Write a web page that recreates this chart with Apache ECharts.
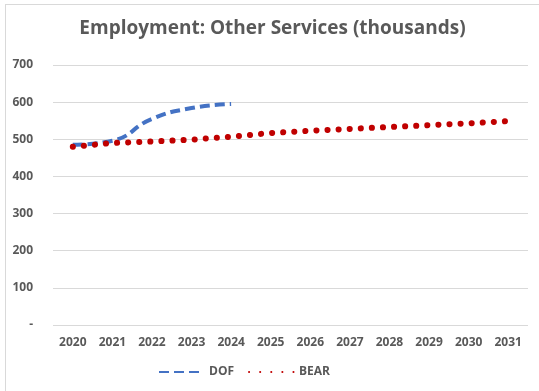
<!DOCTYPE html>
<html>
<head>
<meta charset="utf-8">
<script src="https://cdn.jsdelivr.net/npm/echarts@6/dist/echarts.min.js"></script>
<style>
  html, body { margin: 0; padding: 0; background: #fff; overflow: hidden; }
  #chart { position: absolute; left: 5px; top: 4px; width: 534px; height: 387px; border: 1px solid #d9d9d9; border-right: none; border-bottom: none; box-sizing: border-box; }
</style>
</head>
<body>
<div id="chart"></div>
<script>
// valores
const years = ['2020', '2021', '2022', '2023', '2024', '2025', '2026', '2027', '2028', '2029', '2030', '2031'];
const dof = [485, 496, 555, 584, 595, null, null, null, null, null, null, null];
const bear = [480, 490, 494, 499, 507, 517, 523, 528, 533, 538, 543, 549];
const yTicks = [0, 100, 200, 300, 400, 500, 600, 700];

const chart = echarts.init(document.getElementById('chart'));
const gray = '#595959';
const font = 'Open Sans';

chart.setOption({
  animation: false,
  title: {
    text: 'Employment: Other Services (thousands)',
    left: 'center',
    top: 9,
    textStyle: { color: gray, fontSize: 19, fontWeight: 'bold', fontFamily: font }
  },
  legend: {
    data: ['DOF', 'BEAR'],
    top: 356,
    left: 147,
    itemWidth: 45,
    itemHeight: 10,
    itemGap: 14,
    itemStyle: { opacity: 0 },
    textStyle: { color: gray, fontSize: 12, fontWeight: 'bold', fontFamily: font }
  },
  grid: { left: 47, right: 11, top: 60, bottom: 66 },
  xAxis: {
    type: 'category',
    data: years,
    axisLine: { show: false },
    axisTick: { show: false },
    axisLabel: { color: gray, fontSize: 12, fontWeight: 'bold', fontFamily: font, margin: 12 }
  },
  yAxis: {
    type: 'value',
    min: yTicks[0],
    max: yTicks[yTicks.length - 1],
    interval: 100,
    axisLine: { show: false },
    axisTick: { show: false },
    axisLabel: {
      color: gray, fontSize: 12, fontWeight: 'bold', fontFamily: font, margin: 20,
      formatter: v => (v === 0 ? '-' : v)
    },
    splitLine: { lineStyle: { color: '#d9d9d9', width: 1 } }
  },
  series: [
    {
      name: 'DOF',
      type: 'line',
      data: dof,
      smooth: true,
      symbol: 'none',
      itemStyle: { color: '#4472c4' },
      lineStyle: { color: '#4472c4', width: 4, type: [10, 5] }
    },
    {
      name: 'BEAR',
      type: 'line',
      data: bear,
      symbol: 'none',
      itemStyle: { color: '#c00000' },
      lineStyle: { color: '#c00000', width: 6, type: [0.1, 11], cap: 'round' }
    }
  ]
});
</script>
</body>
</html>
